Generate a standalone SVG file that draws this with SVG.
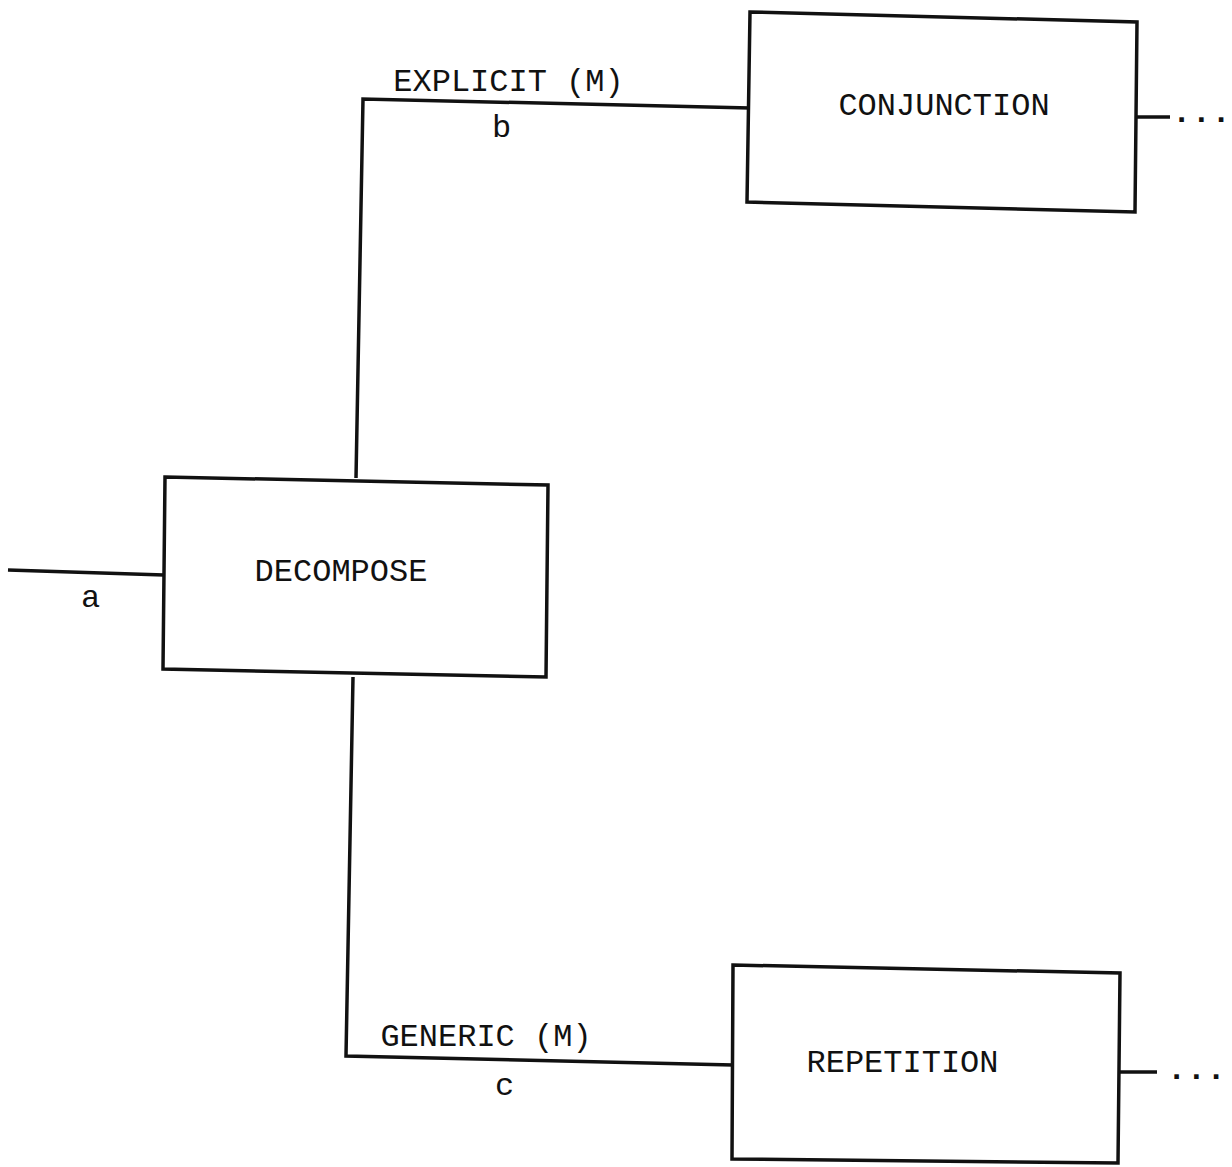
<svg xmlns="http://www.w3.org/2000/svg" width="1232" height="1167" viewBox="0 0 1232 1167">
  <style>
    .box { fill: none; stroke: #111; stroke-width: 3.5; stroke-linejoin: miter; }
    .conn { fill: none; stroke: #111; stroke-width: 3.5; stroke-linejoin: miter; stroke-linecap: butt; }
    .lbl { font-family: "Liberation Mono", "Courier New", monospace; font-size: 32px; fill: #111; text-anchor: middle; }
    .dots { font-family: "Liberation Mono", "Courier New", monospace; font-size: 32px; font-weight: bold; fill: #111; letter-spacing: 0.5px; }
  </style>
  <rect x="0" y="0" width="1232" height="1167" fill="#ffffff"/>

  <g id="connectors">
    <path class="conn" d="M 8 570 L 164 575"/>
    <path class="conn" d="M 356 478 L 363 99 L 750 108"/>
    <path class="conn" d="M 353 677 L 346 1056 L 733 1065"/>
    <path class="conn" d="M 1137 117 L 1170 117"/>
    <path class="conn" d="M 1120 1072 L 1157 1072"/>
    <text class="lbl" x="90.5" y="607">a</text>
    <text class="lbl" x="508.5" y="91">EXPLICIT (M)</text>
    <text class="lbl" x="501.5" y="137">b</text>
    <text class="lbl" x="486" y="1046">GENERIC (M)</text>
    <text class="lbl" x="504.5" y="1095">c</text>
    <text class="dots" x="1172" y="122">...</text>
    <text class="dots" x="1167" y="1079">...</text>
  </g>

  <g id="decompose">
    <polygon class="box" points="165,477 548,485 546,677 163,669"/>
    <text class="lbl" x="341" y="581">DECOMPOSE</text>
  </g>

  <g id="conjunction">
    <polygon class="box" points="750,12 1137,22 1135,212 747,202"/>
    <text class="lbl" x="944" y="115">CONJUNCTION</text>
  </g>

  <g id="repetition">
    <polygon class="box" points="733,965 1120,973 1118,1163 732,1159"/>
    <text class="lbl" x="902.5" y="1072">REPETITION</text>
  </g>
</svg>
